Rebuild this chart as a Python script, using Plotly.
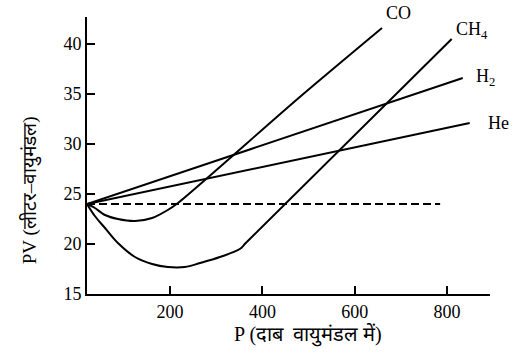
import plotly.graph_objects as go

# Data (P in atm, PV in L·atm)
P_ideal = [20, 785]
PV_ideal = [24, 24]

P_co = [20, 37, 59, 87, 124, 161, 195, 217, 481, 659]
PV_co = [24.0, 23.6, 22.9, 22.5, 22.3, 22.6, 23.4, 24.1, 34.7, 41.6]

P_ch4 = [20, 37, 59, 87, 124, 161, 195, 232, 265, 308, 351, 365, 810]
PV_ch4 = [24.0, 22.8, 21.6, 20.1, 18.7, 18.0, 17.7, 17.7, 18.1, 18.7, 19.5, 20.15, 40.5]

P_h2 = [20, 834]
PV_h2 = [24.0, 36.6]

P_he = [20, 849]
PV_he = [24.0, 32.1]

x_ticks = [200, 400, 600, 800]
y_ticks = [15, 20, 25, 30, 35, 40]

# series labels (text, paper x, paper y)
labels = [("CO", 0.772, 1.014), ("CH<sub>4</sub>", 0.955, 0.953),
          ("H<sub>2</sub>", 0.99, 0.78), ("He", 1.022, 0.617)]

FONT = "Liberation Serif, Times New Roman, serif"

fig = go.Figure()
line = dict(color="black", width=2)
fig.add_trace(go.Scatter(x=P_ideal, y=PV_ideal, mode="lines",
                         line=dict(color="black", width=2, dash="8px,4px")))
fig.add_trace(go.Scatter(x=P_co, y=PV_co, mode="lines", line=dict(line, shape="spline", smoothing=0.8)))
fig.add_trace(go.Scatter(x=P_ch4, y=PV_ch4, mode="lines", line=dict(line, shape="spline", smoothing=1.0)))
fig.add_trace(go.Scatter(x=P_h2, y=PV_h2, mode="lines", line=line))
fig.add_trace(go.Scatter(x=P_he, y=PV_he, mode="lines", line=line))

for txt, x, y in labels:
    fig.add_annotation(x=x, y=y, text=txt, showarrow=False, xref="paper", yref="paper",
                       xanchor="center", yanchor="middle",
                       font=dict(family=FONT, size=18, color="black"))

# axis titles
fig.add_annotation(x=0.548, y=-0.148, xref="paper", yref="paper", showarrow=False,
                   xanchor="center", yanchor="middle", text="P (दाब  वायुमंडल में)",
                   font=dict(family=FONT, size=20, color="black"))
fig.add_annotation(x=-0.141, y=0.375, xref="paper", yref="paper", showarrow=False,
                   xanchor="center", yanchor="middle", textangle=-90, text="PV (लीटर–वायुमंडल)",
                   font=dict(family=FONT, size=19, color="black"))

fig.update_layout(
    width=518, height=358,
    margin=dict(l=87, r=28, t=17, b=64),
    plot_bgcolor="white", paper_bgcolor="white",
    showlegend=False,
    font=dict(family=FONT, size=18, color="black"),
    xaxis=dict(range=[20, 893], tickvals=x_ticks, ticks="inside", ticklen=8, tickwidth=2,
               tickcolor="black", showline=True, linewidth=2, linecolor="black",
               showgrid=False, zeroline=False),
    yaxis=dict(range=[15, 42.7], tickvals=y_ticks, ticks="inside", ticklen=8, tickwidth=2,
               tickcolor="black", showline=True, linewidth=2, linecolor="black",
               showgrid=False, zeroline=False),
)

fig.write_html("out.html")
